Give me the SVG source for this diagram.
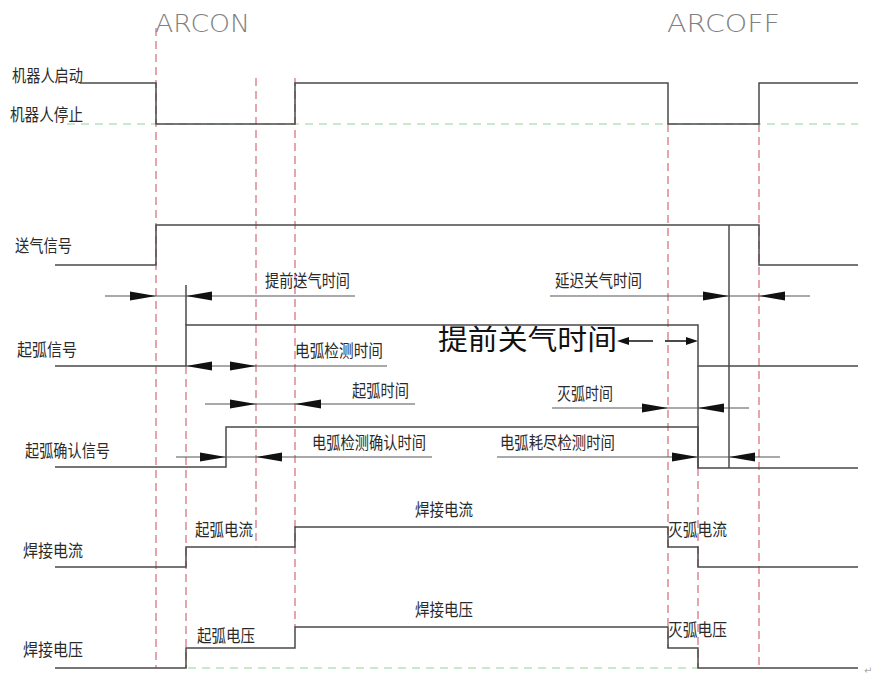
<svg xmlns="http://www.w3.org/2000/svg" xmlns:xlink="http://www.w3.org/1999/xlink" width="878" height="679" viewBox="0 0 878 679">
<style>
.sig{fill:none;stroke:#4a4a4a;stroke-width:1.5}
.dim{fill:none;stroke:#555;stroke-width:1.2}
.red{fill:none;stroke:#d46a78;stroke-width:1.2;stroke-dasharray:8 5}
.grn{fill:none;stroke:#8fd49a;stroke-width:1.2;stroke-dasharray:8 6}
.lbl{font-family:"Noto Sans CJK SC","Noto Sans",sans-serif;font-size:17px;fill:#2a2a2a}
.cad{font-family:"DejaVu Sans","Liberation Sans",sans-serif;font-size:24px;fill:#808080;font-weight:200}
.big{font-family:"Liberation Serif","Noto Sans CJK SC",serif;font-size:28px;fill:#111}
.ah{fill:#111}
</style>
<defs>
<path id="ar" d="M0,0 L-26,-4.5 L-26,4.5 Z"/>
<path id="al" d="M0,0 L26,-4.5 L26,4.5 Z"/>
<path id="sr" d="M0,0 L-12,-4 L-12,4 Z"/>
<path id="sl" d="M0,0 L12,-4 L12,4 Z"/>
</defs>
<rect width="878" height="679" fill="#fff"/>

<g id="guides">
<path class="red" d="M156,28 V668"/>
<path class="red" d="M186,366 V668"/>
<path class="red" d="M256,78 V547"/>
<path class="red" d="M295,78 V627"/>
<path class="red" d="M668,124 V648"/>
<path class="red" d="M698,468 V668"/>
<path class="red" d="M759,124 V668"/>
<path class="grn" d="M67,124 H858"/>
<path class="grn" d="M188,668 H698"/>
</g>

<g id="titles">
<text class="cad" x="155" y="32" textLength="95" lengthAdjust="spacingAndGlyphs">ARCON</text>
<text class="cad" x="667" y="32" textLength="113" lengthAdjust="spacingAndGlyphs">ARCOFF</text>
</g>

<g id="robot">
<text class="lbl" x="12" y="82" textLength="71" lengthAdjust="spacingAndGlyphs">机器人启动</text>
<text class="lbl" x="10" y="121" textLength="73" lengthAdjust="spacingAndGlyphs">机器人停止</text>
<path class="sig" d="M80,83 H156 V124 H295 V83 H668 V124 H759 V83 H858"/>
</g>

<g id="gas">
<text class="lbl" x="15" y="252" textLength="57" lengthAdjust="spacingAndGlyphs">送气信号</text>
<path class="sig" d="M55,265 H156 V225 H759 V265 H858"/>
<path class="sig" d="M729,225 V468"/>
</g>

<g id="arc">
<text class="lbl" x="17" y="356" textLength="60" lengthAdjust="spacingAndGlyphs">起弧信号</text>
<path class="sig" d="M55,366 H186 V325 H698 V366 H858"/>
<path class="sig" d="M186,285 V325"/>
<path class="sig" d="M698,366 V468"/>
</g>

<g id="confirm">
<text class="lbl" x="25" y="457" textLength="85" lengthAdjust="spacingAndGlyphs">起弧确认信号</text>
<path class="sig" d="M55,467 H226 V427 H698 V468 H858"/>
</g>

<g id="current">
<text class="lbl" x="23" y="557" textLength="60" lengthAdjust="spacingAndGlyphs">焊接电流</text>
<text class="lbl" x="195" y="536" textLength="58" lengthAdjust="spacingAndGlyphs">起弧电流</text>
<text class="lbl" x="415" y="516" textLength="58" lengthAdjust="spacingAndGlyphs">焊接电流</text>
<text class="lbl" x="668" y="536" textLength="59" lengthAdjust="spacingAndGlyphs">灭弧电流</text>
<path class="sig" d="M55,567 H186 V547 H295 V527 H668 V547 H698 V567 H858"/>
</g>

<g id="voltage">
<text class="lbl" x="23" y="656" textLength="60" lengthAdjust="spacingAndGlyphs">焊接电压</text>
<text class="lbl" x="197" y="642" textLength="58" lengthAdjust="spacingAndGlyphs">起弧电压</text>
<text class="lbl" x="415" y="616" textLength="58" lengthAdjust="spacingAndGlyphs">焊接电压</text>
<text class="lbl" x="668" y="636" textLength="59" lengthAdjust="spacingAndGlyphs">灭弧电压</text>
<path class="sig" d="M55,668 H186 V648 H295 V627 H668 V648 H698 V668 H858"/>
</g>

<g id="connectors">
<path class="dim" d="M105,296 H355"/>
<use href="#ar" class="ah" x="156" y="296"/>
<use href="#al" class="ah" x="186" y="296"/>
<text class="lbl" x="265" y="287" textLength="85" lengthAdjust="spacingAndGlyphs">提前送气时间</text>

<path class="dim" d="M550,296 H810"/>
<use href="#ar" class="ah" x="729" y="296"/>
<use href="#al" class="ah" x="759" y="296"/>
<text class="lbl" x="555" y="287" textLength="87" lengthAdjust="spacingAndGlyphs">延迟关气时间</text>

<text class="big" x="438" y="350" textLength="179" lengthAdjust="spacingAndGlyphs">提前关气时间</text>
<path class="dim" d="M629,341 H653 M665,341 H686" style="stroke:#111;stroke-width:1.5"/>
<use href="#sl" class="ah" x="617" y="341"/>
<use href="#sr" class="ah" x="698" y="341"/>

<path class="dim" d="M186,366 H387"/>
<use href="#al" class="ah" x="186" y="366"/>
<use href="#ar" class="ah" x="256" y="366"/>
<text class="lbl" x="295" y="357" textLength="88" lengthAdjust="spacingAndGlyphs">电弧检测时间</text>

<path class="dim" d="M205,404 H415"/>
<use href="#ar" class="ah" x="256" y="404"/>
<use href="#al" class="ah" x="295" y="404"/>
<text class="lbl" x="352" y="397" textLength="57" lengthAdjust="spacingAndGlyphs">起弧时间</text>

<path class="dim" d="M552,408 H749"/>
<use href="#ar" class="ah" x="668" y="408"/>
<use href="#al" class="ah" x="698" y="408"/>
<text class="lbl" x="557" y="400" textLength="56" lengthAdjust="spacingAndGlyphs">灭弧时间</text>

<path class="dim" d="M176,457 H432"/>
<use href="#ar" class="ah" x="226" y="457"/>
<use href="#al" class="ah" x="256" y="457"/>
<text class="lbl" x="312" y="449" textLength="114" lengthAdjust="spacingAndGlyphs">电弧检测确认时间</text>

<path class="dim" d="M497,457 H780"/>
<use href="#ar" class="ah" x="698" y="457"/>
<use href="#al" class="ah" x="729" y="457"/>
<text class="lbl" x="500" y="449" textLength="115" lengthAdjust="spacingAndGlyphs">电弧耗尽检测时间</text>
</g>

<text x="864" y="674" style="font-family:'DejaVu Sans',sans-serif;font-size:10px;fill:#aaa">↵</text>
</svg>
